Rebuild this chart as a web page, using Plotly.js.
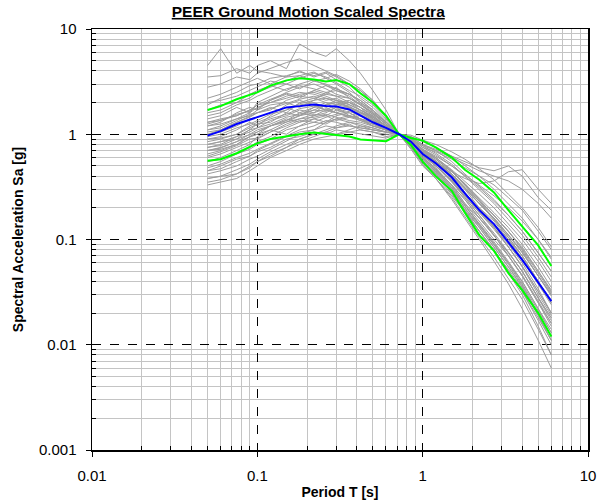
<!DOCTYPE html>
<html>
<head>
<meta charset="utf-8">
<script src="https://cdn.plot.ly/plotly-3.0.1.min.js"></script>
<style>html,body{margin:0;padding:0;background:#fff;}#chart{width:608px;height:501px;}</style>
</head>
<body>
<div id="chart"></div>
<script>
// Periods (s) at which spectra are sampled
const periods = [0.05,0.06,0.075,0.09,0.1,0.12,0.15,0.18,0.22,0.26,0.3,0.36,0.42,0.5,0.6,0.72,0.85,1.0,1.2,1.5,1.8,2.2,2.7,3.3,4.0,5.0,6.0];

// Median and +/- one sigma spectra
const median  = [0.97,1.07,1.25,1.38,1.44,1.6,1.8,1.85,1.92,1.86,1.84,1.72,1.52,1.3,1.15,1.0,0.85,0.65,0.53,0.39,0.275,0.19,0.14,0.094,0.064,0.039,0.026];
const plusSig = [1.70,1.85,2.15,2.35,2.5,2.9,3.25,3.4,3.32,3.18,3.28,3.0,2.45,2.0,1.5,1.0,0.92,0.87,0.75,0.6,0.46,0.37,0.28,0.19,0.133,0.088,0.056];
const minusSig= [0.56,0.58,0.66,0.76,0.82,0.9,0.96,1.0,1.04,1.01,0.99,0.95,0.89,0.88,0.86,1.0,0.79,0.55,0.40,0.29,0.18,0.11,0.078,0.048,0.033,0.02,0.012];

// Individual scaled ground motion spectra
const s01=[1.9,2.2,2.5,2.9,3.0,3.4,3.6,3.9,3.6,3.9,3.5,3.0,2.6,2.1,1.5,1.0,0.80,0.60,0.47,0.33,0.22,0.16,0.11,0.075,0.05,0.028,0.018];
const s02=[0.45,0.47,0.55,0.62,0.70,0.80,0.95,1.05,1.1,1.2,1.15,1.25,1.1,1.05,0.95,1.0,0.95,0.80,0.70,0.55,0.42,0.32,0.24,0.17,0.12,0.075,0.05];
const s03=[1.2,1.3,1.6,1.8,1.7,2.1,2.4,2.2,2.6,2.4,2.8,2.2,1.9,1.6,1.25,1.0,0.78,0.62,0.46,0.32,0.22,0.15,0.10,0.07,0.045,0.025,0.016];
const s04=[0.7,0.75,0.85,1.0,1.1,1.2,1.35,1.6,1.5,1.7,1.6,1.45,1.5,1.3,1.2,1.0,0.88,0.72,0.6,0.45,0.34,0.25,0.18,0.13,0.09,0.055,0.035];
const s05=[3.5,3.6,4.2,3.8,4.5,5.0,4.2,7.2,6.0,5.5,6.5,5.0,3.8,2.6,1.7,1.0,0.72,0.50,0.38,0.26,0.18,0.12,0.08,0.05,0.032,0.018,0.011];
const s06=[0.38,0.4,0.42,0.48,0.55,0.62,0.75,0.9,1.0,1.1,1.2,1.3,1.25,1.15,1.05,1.0,0.9,0.75,0.68,0.58,0.48,0.40,0.33,0.25,0.19,0.12,0.08];
const s07=[1.0,1.1,1.3,1.5,1.6,1.8,1.6,2.0,2.2,2.0,1.9,1.8,1.6,1.5,1.2,1.0,0.85,0.70,0.55,0.40,0.30,0.20,0.15,0.10,0.07,0.04,0.025];
const s08=[0.8,0.85,0.9,1.1,1.25,1.3,1.6,1.5,1.8,2.0,1.7,1.6,1.4,1.2,1.1,1.0,0.82,0.60,0.48,0.33,0.24,0.16,0.11,0.075,0.05,0.028,0.017];
const s09=[1.5,1.6,1.9,2.1,2.3,2.6,3.0,2.7,3.2,3.4,3.0,2.5,2.0,1.7,1.3,1.0,0.9,0.72,0.58,0.44,0.34,0.24,0.17,0.12,0.085,0.05,0.033];
const s10=[0.55,0.6,0.7,0.8,0.95,1.1,1.0,1.2,1.4,1.3,1.5,1.6,1.4,1.3,1.1,1.0,0.85,0.68,0.52,0.36,0.26,0.18,0.13,0.085,0.055,0.03,0.019];
const s11=[0.9,0.95,1.1,1.3,1.2,1.5,1.9,2.1,1.9,1.7,1.9,2.0,1.8,1.55,1.25,1.0,0.80,0.58,0.44,0.30,0.20,0.135,0.09,0.06,0.04,0.022,0.013];
const s12=[0.65,0.7,0.8,0.95,1.0,1.2,1.4,1.3,1.5,1.6,1.8,1.5,1.35,1.2,1.1,1.0,0.92,0.80,0.72,0.62,0.55,0.48,0.45,0.5,0.4,0.25,0.19];
const s13=[1.3,1.4,1.5,1.7,1.9,2.0,2.3,2.5,2.4,2.2,2.1,1.9,1.7,1.5,1.2,1.0,0.8,0.62,0.50,0.36,0.27,0.19,0.135,0.095,0.065,0.038,0.024];
const s14=[0.42,0.45,0.5,0.58,0.62,0.72,0.85,1.0,1.1,1.3,1.4,1.5,1.6,1.45,1.2,1.0,0.78,0.55,0.42,0.28,0.19,0.12,0.08,0.05,0.032,0.017,0.01];
const s15=[2.2,2.4,2.8,3.2,3.4,3.0,3.5,4.0,3.5,3.8,3.3,2.8,2.2,1.8,1.35,1.0,0.75,0.55,0.42,0.28,0.19,0.13,0.085,0.055,0.036,0.02,0.012];
const s16=[0.75,0.8,0.95,1.1,1.15,1.35,1.5,1.7,1.6,1.9,2.1,1.8,1.65,1.4,1.15,1.0,0.88,0.70,0.60,0.46,0.36,0.27,0.20,0.14,0.10,0.062,0.04];
const s17=[1.1,1.2,1.4,1.5,1.7,1.9,2.0,1.8,2.1,2.5,2.3,2.0,1.8,1.4,1.15,1.0,0.9,0.70,0.56,0.42,0.31,0.22,0.16,0.11,0.078,0.045,0.029];
const s18=[0.5,0.55,0.65,0.72,0.8,0.9,1.1,1.2,1.3,1.25,1.4,1.3,1.2,1.1,1.05,1.0,0.9,0.78,0.66,0.52,0.40,0.30,0.22,0.155,0.11,0.068,0.044];
const s19=[1.7,1.9,2.0,2.4,2.6,2.9,2.6,3.0,3.3,2.9,2.6,2.4,2.1,1.7,1.3,1.0,0.82,0.64,0.5,0.37,0.27,0.19,0.13,0.09,0.06,0.034,0.02];
const s20=[0.85,0.9,1.0,1.2,1.3,1.45,1.7,1.9,2.0,1.8,1.6,1.75,1.5,1.3,1.1,1.0,0.86,0.66,0.54,0.38,0.28,0.2,0.14,0.10,0.066,0.039,0.025];
const s21=[0.33,0.35,0.38,0.45,0.5,0.6,0.7,0.8,0.9,0.95,1.0,1.05,1.1,1.05,1.0,1.0,0.95,0.85,0.75,0.62,0.5,0.4,0.3,0.22,0.16,0.1,0.065];
const s22=[1.4,1.5,1.8,1.6,2.0,2.3,2.7,2.9,2.7,2.5,2.6,2.3,1.9,1.6,1.25,1.0,0.8,0.6,0.46,0.33,0.24,0.16,0.11,0.07,0.046,0.026,0.016];
const s23=[0.6,0.65,0.75,0.85,0.9,1.05,1.25,1.4,1.55,1.5,1.35,1.45,1.35,1.25,1.1,1.0,0.86,0.7,0.58,0.44,0.33,0.24,0.17,0.12,0.08,0.048,0.031];
const s24=[1.0,1.05,1.2,1.4,1.45,1.6,1.8,1.6,1.8,1.9,2.0,1.85,1.6,1.4,1.2,1.0,0.84,0.64,0.52,0.4,0.3,0.22,0.16,0.11,0.075,0.045,0.03];
const s25=[2.8,3.0,3.5,3.3,3.8,4.2,4.8,5.2,4.5,4.0,3.6,3.0,2.6,2.0,1.45,1.0,0.78,0.58,0.44,0.3,0.21,0.14,0.095,0.062,0.04,0.022,0.014];
const s26=[0.7,0.72,0.8,0.95,1.05,1.2,1.3,1.4,1.45,1.55,1.45,1.35,1.3,1.2,1.1,1.0,0.92,0.75,0.64,0.50,0.40,0.31,0.23,0.17,0.12,0.075,0.05];
const s27=[1.2,1.25,1.4,1.6,1.8,2.0,2.2,2.4,2.5,2.3,2.1,2.0,1.7,1.45,1.2,1.0,0.87,0.68,0.55,0.41,0.31,0.22,0.155,0.105,0.07,0.04,0.026];
const s28=[0.95,1.0,1.15,1.25,1.35,1.55,1.7,1.95,2.1,2.2,2.0,1.8,1.55,1.35,1.15,1.0,0.83,0.64,0.5,0.35,0.25,0.17,0.115,0.076,0.05,0.028,0.018];
const s29=[4.5,6.5,3.8,4.5,4.0,3.8,3.5,3.6,3.2,3.0,2.7,2.4,2.0,1.65,1.3,1.0,0.85,0.7,0.56,0.42,0.31,0.22,0.155,0.105,0.07,0.04,0.026];
const s30=[0.45,0.5,0.58,0.62,0.68,0.75,0.9,0.95,1.05,1.0,1.1,1.05,1.0,0.95,0.92,1.0,0.98,0.88,0.80,0.68,0.58,0.47,0.37,0.27,0.2,0.13,0.085];
const s31=[1.6,1.7,2.0,2.2,2.5,2.8,3.2,3.6,3.9,3.4,3.7,3.2,2.7,2.1,1.45,1.0,0.76,0.54,0.4,0.27,0.18,0.12,0.08,0.052,0.034,0.019,0.011];
const s32=[0.8,0.85,0.95,1.05,1.15,1.25,1.45,1.55,1.7,1.65,1.8,1.7,1.5,1.35,1.15,1.0,0.85,0.67,0.55,0.42,0.32,0.23,0.17,0.12,0.082,0.05,0.032];
const s33=[1.05,1.1,1.3,1.45,1.6,1.7,2.1,2.3,2.2,2.4,2.3,2.2,1.9,1.55,1.25,1.0,0.83,0.63,0.5,0.36,0.26,0.18,0.125,0.085,0.056,0.032,0.02];
const s34=[0.55,0.58,0.65,0.75,0.85,0.95,1.15,1.3,1.4,1.5,1.7,1.8,1.6,1.35,1.15,1.0,0.82,0.6,0.46,0.31,0.21,0.14,0.09,0.058,0.037,0.02,0.012];
const s35=[0.75,0.78,0.9,1.0,1.05,1.2,1.35,1.5,1.6,1.75,1.6,1.5,1.4,1.3,1.15,1.0,0.88,0.72,0.62,0.5,0.41,0.33,0.26,0.2,0.15,0.1,0.068];
const s36=[1.25,1.35,1.5,1.7,1.75,2.1,2.5,2.8,3.0,2.7,2.4,2.2,1.95,1.6,1.3,1.0,0.8,0.58,0.45,0.31,0.21,0.14,0.092,0.06,0.038,0.021,0.013];
const s37=[0.9,0.92,1.0,1.15,1.25,1.4,1.55,1.75,1.85,1.7,1.6,1.5,1.4,1.25,1.1,1.0,0.9,0.78,0.7,0.6,0.52,0.45,0.4,0.36,0.3,0.22,0.16];
const s38=[0.62,0.68,0.78,0.9,0.92,1.05,1.2,1.35,1.3,1.45,1.55,1.65,1.5,1.3,1.15,1.0,0.84,0.64,0.5,0.36,0.25,0.17,0.11,0.07,0.045,0.025,0.015];
const s39=[1.1,1.15,1.35,1.55,1.6,1.75,1.95,2.15,2.3,2.1,2.2,1.9,1.7,1.45,1.2,1.0,0.86,0.66,0.55,0.44,0.38,0.34,0.36,0.44,0.46,0.3,0.22];
const s40=[0.48,0.52,0.6,0.66,0.72,0.82,0.95,1.1,1.2,1.35,1.3,1.2,1.15,1.1,1.05,1.0,0.9,0.72,0.6,0.45,0.33,0.23,0.16,0.11,0.075,0.045,0.03];
const s41=[0.38,0.4,0.46,0.52,0.58,0.68,0.8,0.9,1.0,1.05,1.15,1.2,1.15,1.1,1.05,1.0,0.86,0.68,0.55,0.4,0.28,0.19,0.13,0.085,0.055,0.032,0.02];
const s42=[0.35,0.37,0.42,0.5,0.55,0.65,0.75,0.85,0.95,1.05,1.0,1.1,1.2,1.15,1.05,1.0,0.8,0.52,0.38,0.24,0.16,0.1,0.062,0.038,0.022,0.011,0.006];
const s43=[2.0,2.1,2.3,2.6,2.8,3.2,3.0,3.4,3.8,3.5,3.1,2.6,2.3,1.9,1.4,1.0,0.74,0.52,0.38,0.25,0.165,0.105,0.068,0.043,0.027,0.014,0.008];
const s44=[1.3,1.35,1.55,1.65,1.9,2.15,2.45,2.3,2.6,2.9,2.7,2.4,2.1,1.7,1.3,1.0,0.78,0.56,0.43,0.29,0.2,0.13,0.085,0.055,0.035,0.019,0.011];
const s45=[0.7,0.74,0.85,0.95,1.0,1.1,1.3,1.5,1.7,1.9,2.0,2.1,1.8,1.5,1.2,1.0,0.8,0.55,0.42,0.28,0.185,0.12,0.078,0.048,0.03,0.015,0.008];
const grayRecords=[s01,s02,s03,s04,s05,s06,s07,s08,s09,s10,s11,s12,s13,s14,s15,s16,s17,s18,s19,s20,s21,s22,s23,s24,s25,s26,s27,s28,s29,s30,s31,s32,s33,s34,s35,s36,s37,s38,s39,s40,s41,s42,s43,s44,s45];

// Tick labels
const xTickVals=[0.01,0.1,1,10];
const xTickText=['0.01','0.1','1','10'];
const yTickVals=[0.001,0.01,0.1,1,10];
const yTickText=['0.001','0.01','0.1','1','10'];

const traces=[];
grayRecords.forEach(function(r){
  traces.push({x:periods,y:r,type:'scatter',mode:'lines',line:{color:'#9c9c9c',width:1},hoverinfo:'skip',showlegend:false});
});
traces.push({x:periods,y:plusSig,type:'scatter',mode:'lines',line:{color:'#00ff00',width:2},showlegend:false});
traces.push({x:periods,y:minusSig,type:'scatter',mode:'lines',line:{color:'#00ff00',width:2},showlegend:false});
traces.push({x:periods,y:median,type:'scatter',mode:'lines',line:{color:'#0000ff',width:2},showlegend:false});

function minorVals(lo,hi){const v=[];for(let e=lo;e<hi;e++){for(let k=2;k<=9;k++){v.push(k*Math.pow(10,e));}}return v;}

const font='"Liberation Sans", Arial, sans-serif';
function axis(tv,tt,range,minorV,titleText,standoff){
  return {
    type:'log',range:range,tickmode:'array',tickvals:tv,ticktext:tt,
    ticks:'outside',ticklen:5,tickwidth:1,tickcolor:'#000',
    showline:true,linecolor:'#000',linewidth:1.5,mirror:true,
    showgrid:true,gridcolor:'#000',gridwidth:1,griddash:'dash',
    zeroline:false,
    tickfont:{family:font,size:15,color:'#000'},
    ticklabelstandoff:6,
    minor:{tickmode:'array',tickvals:minorV,ticks:'inside',ticklen:4,tickcolor:'#000',tickwidth:1,showgrid:true,gridcolor:'#c4c4c4',gridwidth:1,griddash:'solid'},
    title:{text:'<b>'+titleText+'</b>',font:{family:font,size:14,color:'#000'},standoff:standoff}
  };
}

const layout={
  width:608,height:501,
  margin:{l:92,r:20,t:29,b:51},
  paper_bgcolor:'#fff',plot_bgcolor:'#fff',
  showlegend:false,
  title:{text:'<b>PEER Ground Motion Scaled Spectra</b>',font:{family:font,size:15.5,color:'#000',lineposition:'under'},
         xref:'container',x:0.507,xanchor:'center',yref:'container',y:0.977,yanchor:'middle'},
  xaxis:axis(xTickVals,xTickText,[-2,1],minorVals(-2,1),'Period T [s]',4),
  yaxis:axis(yTickVals,yTickText,[-3,1],minorVals(-3,1),'Spectral Acceleration Sa [g]',12)
};

Plotly.newPlot('chart',traces,layout,{displayModeBar:false,staticPlot:true});
</script>
</body>
</html>
